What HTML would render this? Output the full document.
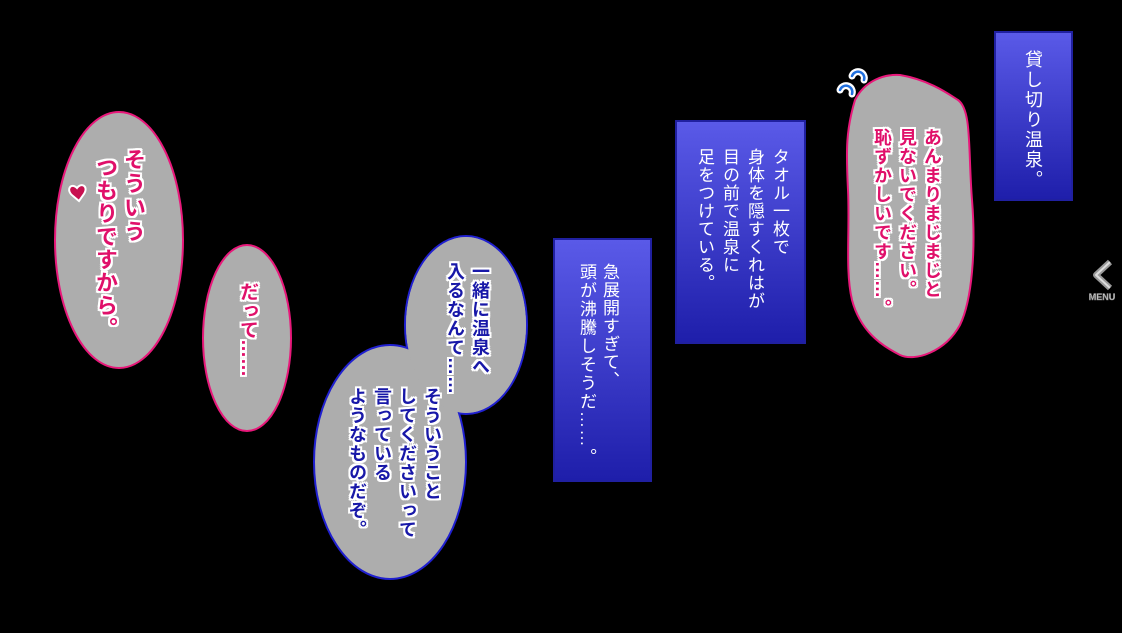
<!DOCTYPE html>
<html><head><meta charset="utf-8"><style>
html,body{margin:0;padding:0;background:#000;width:1122px;height:633px;overflow:hidden}
.c{position:absolute;writing-mode:vertical-rl;font-family:"Liberation Sans","Noto Sans CJK JP",sans-serif;font-weight:bold;white-space:nowrap;line-height:1}
.p{color:#e0106a;text-shadow:2px 0 #fff,-2px 0 #fff,0 2px #fff,0 -2px #fff,2px 2px #fff,-2px -2px #fff,2px -2px #fff,-2px 2px #fff}
.b{color:#1818a8;text-shadow:2px 0 #fff,-2px 0 #fff,0 2px #fff,0 -2px #fff,2px 2px #fff,-2px -2px #fff,2px -2px #fff,-2px 2px #fff}
.w{color:#fff;font-weight:normal}
</style></head><body>
<svg width="1122" height="633" style="position:absolute;left:0;top:0">
<defs><linearGradient id="g" x1="0" y1="0" x2="0" y2="1"><stop offset="0" stop-color="#5a5ae8"/><stop offset="1" stop-color="#1e1eaa"/></linearGradient></defs>
<ellipse cx="119" cy="240" rx="64" ry="128" fill="#adadad" stroke="#e8187a" stroke-width="2"/>
<ellipse cx="247" cy="338" rx="44" ry="93" fill="#adadad" stroke="#e8187a" stroke-width="2"/>
<ellipse cx="466" cy="325" rx="61" ry="89" fill="#adadad" stroke="#2020d0" stroke-width="2"/>
<ellipse cx="390" cy="462" rx="76" ry="117" fill="#adadad" stroke="#2020d0" stroke-width="2"/>
<ellipse cx="466" cy="325" rx="60" ry="88" fill="#adadad"/>
<rect x="554" y="239" width="97" height="242" fill="url(#g)" stroke="#2020a0" stroke-width="2"/>
<rect x="676" y="121" width="129" height="222" fill="url(#g)" stroke="#2020a0" stroke-width="2"/>
<rect x="995" y="32" width="77" height="168" fill="url(#g)" stroke="#2020a0" stroke-width="2"/>
<path d="M900,75 C930,80 950,95 958,100 C972,110 968,150 972,200 C976,250 972,300 960,325 C945,352 915,362 900,355 C880,345 860,330 852,300 C845,270 850,230 848,190 C846,150 846,130 855,100 C865,80 885,74 900,75 Z" fill="#adadad" stroke="#e8187a" stroke-width="2"/>
<g fill="none" stroke="#fff" stroke-width="7" stroke-linecap="round"><path d="M864,80 a6,6 0 1 0 -12,-4"/><path d="M852,94 a6,6 0 1 0 -12,-4"/></g>
<g fill="none" stroke="#2070e0" stroke-width="2.5" stroke-linecap="round"><path d="M864,80 a6,6 0 1 0 -12,-4"/><path d="M852,94 a6,6 0 1 0 -12,-4"/></g>
<path d="M77,188 c-6,-6 -12,2 -4,8 l6,5 l5,-7 c5,-8 -3,-12 -7,-6z" fill="#c8104f" stroke="#fff" stroke-width="2"/>
<path d="M1110,262 l-14,13 l14,13" fill="none" stroke="#999" stroke-width="6" stroke-linejoin="round"/>
<path d="M1110,262 l-14,13 l14,13" fill="none" stroke="#ddd" stroke-width="2" stroke-linejoin="round"/>
<text x="1102" y="300" font-family="Liberation Sans" font-size="9" font-weight="bold" fill="#ddd" stroke="#777" stroke-width="0.6" text-anchor="middle">MENU</text>
</svg>
<div class="c p" style="left:122px;top:148px;font-size:22px;letter-spacing:2px">そういう</div>
<div class="c p" style="left:94px;top:156px;font-size:22px;letter-spacing:1px">つもりですから。</div>
<div class="c p" style="left:238px;top:282px;font-size:19px">だって……</div>
<div class="c b" style="left:471px;top:262px;font-size:18px;letter-spacing:1px">一緒に温泉へ</div>
<div class="c b" style="left:446px;top:262px;font-size:18px;letter-spacing:1px">入るなんて……</div>
<div class="c b" style="left:423px;top:387px;font-size:18px;letter-spacing:1px">そういうこと</div>
<div class="c b" style="left:398px;top:387px;font-size:18px;letter-spacing:1px">してくださいって</div>
<div class="c b" style="left:373px;top:387px;font-size:18px;letter-spacing:1px">言っている</div>
<div class="c b" style="left:348px;top:387px;font-size:18px;letter-spacing:1px">ようなものだぞ。</div>
<div class="c w" style="left:601px;top:263px;font-size:17px;letter-spacing:1px">急展開すぎて、</div>
<div class="c w" style="left:578px;top:263px;font-size:17px;letter-spacing:1.5px">頭が沸騰しそうだ……。</div>
<div class="c w" style="left:771px;top:148px;font-size:17px;letter-spacing:1px">タオル一枚で</div>
<div class="c w" style="left:746px;top:148px;font-size:17px;letter-spacing:1px">身体を隠すくれはが</div>
<div class="c w" style="left:721px;top:148px;font-size:17px;letter-spacing:1px">目の前で温泉に</div>
<div class="c w" style="left:696px;top:148px;font-size:17px;letter-spacing:1px">足をつけている。</div>
<div class="c w" style="left:1024px;top:50px;font-size:18px;letter-spacing:2px">貸し切り温泉。</div>
<div class="c p" style="left:923px;top:128px;font-size:18px;letter-spacing:1px">あんまりまじまじと</div>
<div class="c p" style="left:898px;top:128px;font-size:18px;letter-spacing:1px">見ないでください。</div>
<div class="c p" style="left:873px;top:128px;font-size:18px;letter-spacing:1px">恥ずかしいです……。</div>
</body></html>
